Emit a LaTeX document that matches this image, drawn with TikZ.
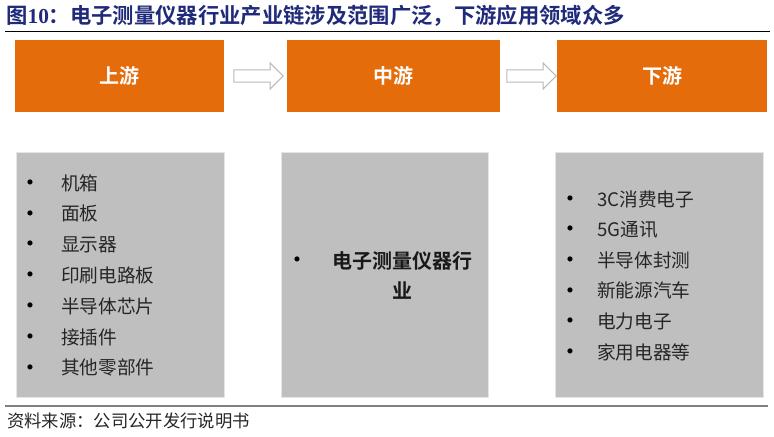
\documentclass[tikz,border=0pt]{standalone}
\usepackage{fontspec}
\setmainfont{Noto Sans CJK SC}[BoldFont={Noto Sans CJK SC Bold}]
\newfontfamily\latinfont{Liberation Serif}
\usetikzlibrary{shapes.arrows, calc}
\definecolor{stageorange}{HTML}{E46C0A}
\definecolor{panelgray}{HTML}{BFBFBF}
\definecolor{titleblue}{HTML}{1F2A7A}
\begin{document}
\begin{tikzpicture}[x=0.75pt, y=-0.75pt,
    stage/.style={fill=stageorange, draw=none, text=white, minimum height=54pt, font=\bfseries\fontsize{15}{18}\selectfont},
    panel/.style={fill=panelgray, draw=gray!20, minimum height=183.75pt},
    flowarrow/.style={single arrow, draw=gray!55, fill=white, line width=0.8pt, inner xsep=0pt, inner ysep=4.2pt, minimum height=37pt, single arrow head extend=5.25pt},
    dot/.style={inner sep=0pt, text=black, font=\latinfont\fontsize{16}{16}\selectfont},
    entry/.style={inner sep=0pt, anchor=west, text=black!85, font=\fontsize{14}{16}\selectfont}]
  \useasboundingbox (0,0) rectangle (774,436);
  % title and rules
  \node[anchor=west, inner sep=0pt, text=titleblue, font=\bfseries\fontsize{16}{18}\selectfont] (title) at (6,16) {图{\latinfont\bfseries 10}：电子测量仪器行业产业链涉及范围广泛，下游应用领域众多};
  \draw[black, line width=0.75pt] (5,31) -- (770,31);
  \draw[gray, line width=1.5pt] (5,406) -- (768,406);
  \node[anchor=west, inner sep=0pt, text=black!85, font=\fontsize{13}{15}\selectfont] (source) at (7,421) {资料来源：公司公开发行说明书};
  % stages
  \node[stage, minimum width=156.75pt] (up) at (119.5,76) {上游};
  \node[stage, minimum width=159.75pt] (mid) at (393.5,76) {中游};
  \node[stage, minimum width=157.5pt] (down) at (662,76) {下游};
  \node[flowarrow] (a1) at ($(up.east)!0.5!(mid.west)$) {};
  \node[flowarrow] (a2) at ($(mid.east)!0.5!(down.west)$) {};
  % panels
  \node[panel, minimum width=156pt] (uppanel) at (120,274.5) {};
  \node[panel, minimum width=155.25pt] (midpanel) at (384.5,274.5) {};
  \node[panel, minimum width=156pt] (downpanel) at (659,274.5) {};
  \foreach \txt [count=\i from 0] in {机箱,面板,显示器,印刷电路板,半导体芯片,接插件,其他零部件} {
    \node[dot] (ub\i) at (30,184.5+30.8*\i) {•};
    \node[entry] (u\i) at (61,183+30.8*\i) {\txt};
  }
  \node[dot] (mb) at (297,261.5) {•};
  \node[inner sep=0pt, align=center, text=black!90, font=\bfseries\fontsize{15}{22.5}\selectfont] (m) at (402,275) {电子测量仪器行\\业};
  \foreach \txt [count=\i from 0] in {3C消费电子,5G通讯,半导体封测,新能源汽车,电力电子,家用电器等} {
    \node[dot] (db\i) at (570,200.5+30.6*\i) {•};
    \node[entry] (d\i) at (597,199+30.6*\i) {\txt};
  }
\end{tikzpicture}
\end{document}
